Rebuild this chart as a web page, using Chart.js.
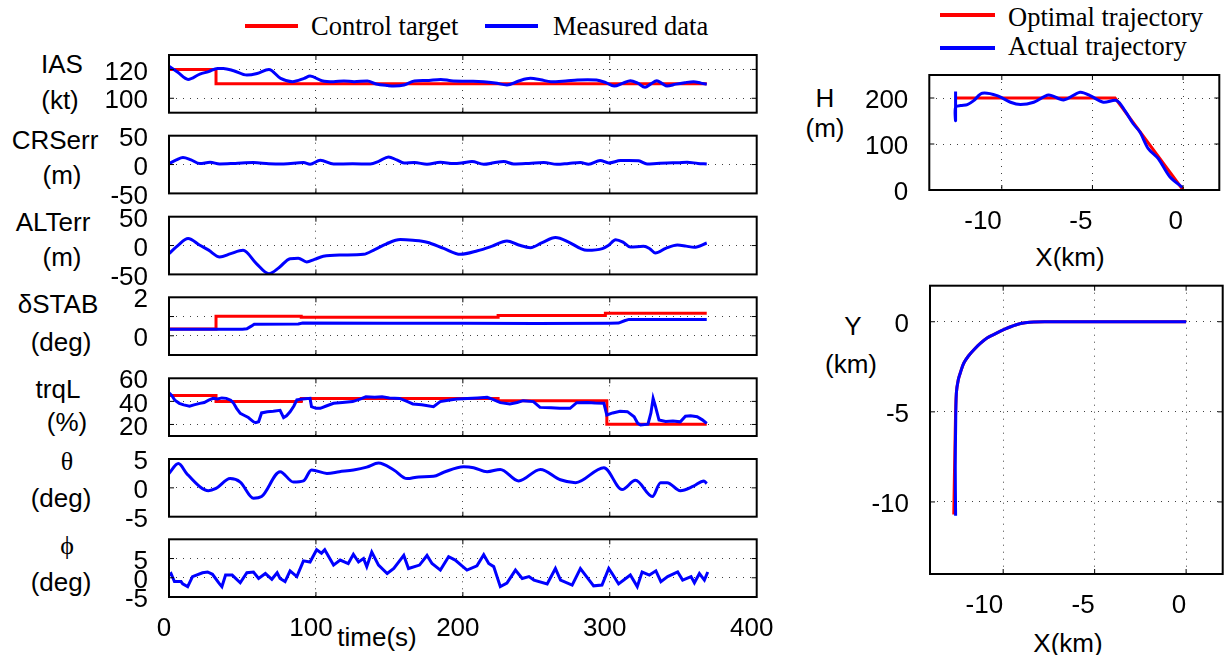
<!DOCTYPE html>
<html lang="en">
<head>
  <meta charset="UTF-8">
  <title>Approach tracking results</title>
  <script src="https://cdn.jsdelivr.net/npm/chart.js"></script>
  <style>
    body { margin: 0; background: #fff; }
    #page {
      position: relative;
      width: 1224px;
      height: 655px;
      overflow: hidden;
      font-family: "Liberation Sans", Arial, sans-serif;
      color: #000;
    }
    canvas { position: absolute; }
    .lab {
      position: absolute;
      font-size: 26px;
      line-height: 1;
      white-space: nowrap;
      transform: translate(-50%, -50%);
    }
    .greek { font-family: "Liberation Serif", "Times New Roman", serif; }
    .leg {
      position: absolute;
      font-family: "Liberation Serif", "Times New Roman", serif;
      font-size: 26.5px;
      line-height: 1;
      white-space: nowrap;
      transform: translateY(-50%);
    }
    .key { position: absolute; height: 4px; }
  </style>
</head>
<body>
<div id="page">
  <!-- legends -->
  <div class="key" style="left:245px;top:23.5px;width:53px;background:#f00"></div>
  <div class="leg" style="left:311px;top:26px">Control target</div>
  <div class="key" style="left:485px;top:23.5px;width:53px;background:#00f"></div>
  <div class="leg" style="left:553px;top:26px">Measured data</div>

  <div class="key" style="left:940px;top:13px;width:55px;background:#f00"></div>
  <div class="leg" style="left:1008px;top:17px">Optimal trajectory</div>
  <div class="key" style="left:940px;top:46px;width:55px;background:#00f"></div>
  <div class="leg" style="left:1008px;top:46px">Actual trajectory</div>

  <!-- strip labels -->
  <div class="lab" style="left:62px;top:64px">IAS</div>
  <div class="lab" style="left:60px;top:100px">(kt)</div>
  <div class="lab" style="left:55px;top:140px">CRSerr</div>
  <div class="lab" style="left:62px;top:175px">(m)</div>
  <div class="lab" style="left:53px;top:222px">ALTerr</div>
  <div class="lab" style="left:62px;top:257px">(m)</div>
  <div class="lab" style="left:58px;top:304px">δSTAB</div>
  <div class="lab" style="left:61px;top:342px">(deg)</div>
  <div class="lab" style="left:58px;top:389px">trqL</div>
  <div class="lab" style="left:67px;top:422px">(%)</div>
  <div class="lab greek" style="left:67px;top:462px">θ</div>
  <div class="lab" style="left:61px;top:498px">(deg)</div>
  <div class="lab greek" style="left:67px;top:546px">ϕ</div>
  <div class="lab" style="left:61px;top:582px">(deg)</div>
  <div class="lab" style="left:377px;top:637px">time(s)</div>

  <div class="lab" style="left:825px;top:98px">H</div>
  <div class="lab" style="left:825px;top:128px">(m)</div>
  <div class="lab" style="left:1070px;top:257px">X(km)</div>
  <div class="lab" style="left:853px;top:326px">Y</div>
  <div class="lab" style="left:851px;top:364px">(km)</div>
  <div class="lab" style="left:1068px;top:643px">X(km)</div>

  <canvas id="cIas"></canvas>
  <canvas id="cCrs"></canvas>
  <canvas id="cAlt"></canvas>
  <canvas id="cStab"></canvas>
  <canvas id="cTrq"></canvas>
  <canvas id="cTheta"></canvas>
  <canvas id="cPhi"></canvas>
  <canvas id="cH"></canvas>
  <canvas id="cY"></canvas>
</div>

<script>
// ---- time histories (t in s) ----
const timeTicks = [0, 100, 200, 300, 400];

const iasTargetT = [0, 32, 366];
const iasTargetV = [120, 110, 110];
const iasT = [0, 6, 13, 21, 27, 33, 37, 44, 53, 60, 68, 76, 84, 92, 96, 104, 112, 119, 126, 135,
  141, 149, 153, 160, 167, 175, 185, 192, 203, 214, 222, 230, 238, 246, 253, 260, 270, 278, 285,
  291, 297, 303, 309, 314, 319, 324, 328, 332, 336, 339, 345, 351, 357, 362, 366];
const iasV = [122.3, 118, 113.1, 116.8, 118.5, 120.7, 120.7, 119.1, 116.1, 117.2, 120, 113.8, 111.5,
  113.8, 115.4, 112.2, 111.5, 112, 111.5, 112, 109.9, 108.8, 108.5, 109.2, 112, 112.3, 113.1, 112.2,
  111.8, 111.5, 110.6, 109.2, 112, 113.8, 112.8, 111.5, 112, 112.6, 112.8, 112.6, 111, 108.5, 110.5,
  112.2, 110.5, 107.6, 110, 112.2, 110, 108.5, 109.8, 110.8, 111.5, 110.5, 109.7];

const crsT = [0, 5, 9.5, 15, 21, 28, 34.5, 45, 57.5, 68, 78, 91.5, 96, 103, 112, 125, 137, 143, 149.4,
  155, 160, 167, 175.6, 184.7, 193.8, 200, 206.2, 214.2, 221, 227.8, 234.6, 245, 255, 264, 272, 280,
  285.6, 293.5, 299.3, 307.3, 313, 319.7, 325.4, 332, 339, 346, 352.6, 360, 366];
const crsV = [1.7, 8, 12.1, 8, 1.7, 4, 1, 2, 3.5, 1.5, 1, 3.5, 0.5, 7.4, 1, 1.2, 1, 6, 13.2, 8, 2.9,
  3.5, 0.5, 4, 1.7, 3, 5.2, 0.5, 3, 5.2, 1, 2, 3.5, 0.5, 2, 3.5, 0.5, 6.9, 2.9, 6.9, 7.2, 6.4, 1, 2,
  2.9, 3, 4, 2, 1];

const altT = [0, 6, 13, 21, 27, 34.5, 42, 50.4, 59.5, 68, 75, 82.4, 88, 93.7, 99, 105, 118, 132.4,
  140, 148, 157.4, 166, 175.6, 187, 198.3, 210, 220, 230, 238, 246, 254, 263, 272, 280, 284.6, 295,
  299, 304, 309, 314, 323, 327, 331, 338, 346, 352, 357.4, 366];
const altV = [-13.9, 0, 12.1, 0.5, -8, -19.8, -14, -8.3, -31.4, -48.8, -38, -22.7, -22, -28.5, -24,
  -18.7, -16.5, -15.2, -7, 3, 10.3, 9, 5.7, -5, -15.2, -9, -1, 8, 1, -3.6, 5, 13.8, 6, -5, -8.3, -5.4,
  0, 10.2, 6, -2.5, -1.3, -5, -12.9, -5, 1, -1, -3.1, 4.4];

const stabTargetT = [0, 32, 90, 224, 297, 366];
const stabTargetV = [0.35, 1.02, 0.96, 1.05, 1.17, 1.17];
const stabT = [0, 50, 53, 56, 58, 88, 91, 150, 200, 250, 300, 306, 310, 313, 366];
const stabV = [0.34, 0.34, 0.36, 0.5, 0.6, 0.61, 0.66, 0.65, 0.65, 0.64, 0.65, 0.66, 0.78, 0.85, 0.85];

const trqTargetT = [0, 32, 90, 224, 298, 366];
const trqTargetV = [45.2, 40, 42.6, 40.5, 20.2, 20.2];
const trqT = [0, 2, 4, 7, 10, 14, 17, 21, 24, 27, 30, 33, 36, 39, 42, 44, 46, 48.5, 51, 54, 57.5, 59,
  61, 63, 67, 71, 75.6, 78, 80, 82.4, 85, 87, 91, 96, 97, 100, 103, 107, 112, 118, 125, 130, 134, 140,
  145, 150, 157, 162, 166, 172, 180, 184.6, 190, 196, 203, 210, 216.5, 220, 225.5, 232, 237, 241, 248,
  252.5, 260, 266, 273, 277.5, 285, 290, 296, 298, 302, 307, 312, 316.6, 319, 321, 326, 328, 329.5,
  331, 333.5, 338, 343, 348, 351.5, 355, 359.5, 363, 366];
const trqV = [47.5, 45, 41, 38.3, 37, 35.9, 37, 38.3, 39, 41, 42.6, 42, 43, 42.6, 41, 38.3, 34, 29.6,
  28, 26, 22.3, 21.5, 22.3, 30, 31, 31.5, 32.3, 26, 27.5, 31, 36, 41.3, 42, 42.6, 35.4, 34, 34, 36,
  38.3, 39, 39.8, 42, 44, 43.5, 44, 43, 42.6, 40, 37.8, 37, 35.4, 39.8, 41, 42, 42.6, 43, 43.5, 42,
  38.9, 37.8, 39, 40.6, 39.8, 34.8, 34.5, 34, 34, 38.9, 39, 38.5, 38.3, 28.2, 30, 31.5, 31.1, 26.7,
  21, 19.5, 20.3, 30, 42.6, 36, 23.8, 22.5, 23, 22.3, 27.2, 27.5, 26.7, 24, 20.9];

const thetaT = [0, 6.4, 12, 21, 26.8, 32, 41.6, 48.5, 57.5, 63, 75.6, 84.7, 91.5, 97, 107.5, 116,
  125.6, 134.6, 142.6, 153, 162, 170, 180, 187, 200.5, 207.3, 216.5, 225.5, 238, 252.8, 266.4, 276.7,
  296, 308.4, 317.5, 329, 334.6, 339, 348, 357, 364, 366];
const thetaV = [2.5, 4.2, 2.5, 0.2, -0.5, -0.1, 1.6, 1.0, -1.8, -1.5, 2.8, 1.0, 1.2, 3.1, 2.5, 2.8,
  3.1, 3.6, 4.3, 3.1, 1.6, 1.9, 2.0, 2.7, 3.65, 3.5, 2.8, 3.2, 1.2, 3.2, 1.4, 0.9, 3.5, -0.3, 1.3,
  -1.5, 0.9, 0.9, -0.5, 0.3, 1.2, 0.75];

const phiT = [0, 1.4, 3.7, 8.2, 9.3, 12.7, 16, 22.8, 26.3, 29.6, 34, 36, 38.5, 43, 48.5, 53, 57.5,
  61, 65.6, 70, 73.6, 75.6, 79, 82.4, 87, 91.5, 96, 100.5, 103.8, 106, 112, 116.5, 122, 125.5, 129,
  132.4, 134.6, 138, 142.6, 148.5, 153, 159.8, 163, 170.5, 175.6, 179, 184.7, 190.3, 194.8, 199.4,
  202.8, 209.6, 214.2, 217.6, 221, 225.5, 230, 235.8, 240.4, 245, 248.4, 257.4, 263, 266.5, 274.4,
  280, 283.4, 289, 294.7, 299.3, 301.6, 306, 309.5, 314, 318.7, 322, 327, 331.4, 334.8, 339.4,
  346.2, 349.6, 355.3, 357.6, 361, 364.4, 366.7];
const phiV = [0.7, 1.1, -1.0, -1.0, -1.6, -2.3, 0.3, 1.3, 1.5, 0.9, -1.4, -2.3, 0.7, 0.7, -1.3, 1.3,
  1.5, -0.2, 1.1, -0.4, 1.3, -0.2, -1.0, 1.8, 0.3, 4.4, 4.1, 7.3, 6.4, 7.3, 3.3, 4.6, 3.7, 6.1, 4.1,
  5.0, 2.9, 6.7, 3.3, 1.1, 2.4, 5.8, 2.4, 3.3, 5.8, 3.7, 2.0, 5.5, 4.6, 3.1, 2.0, 3.1, 6.0, 3.7, 2.9,
  -2.3, -1.4, 2.0, -0.2, 0.3, -0.6, -1.6, 2.4, -0.6, -1.9, 2.4, 0.7, -2.1, -1.9, 2.4, 1.1, -1.6,
  -0.6, 0.7, -2.3, 1.5, 0.7, 1.8, -1.0, 0.3, 1.5, -0.6, 0.3, -1.3, 1.1, -0.6, 1.5];

// ---- trajectories (km / m) ----
const kmTicks = [-10, -5, 0];
const optHX = [-12.55, -3.75, 0];
const optH = [200, 200, 0];
const actHX = [-12.55, -12.55, -12.55, -12.27, -11.9, -11.55, -11.08, -10.26, -9.52, -8.97, -8.24,
  -7.42, -6.59, -5.68, -5.13, -4.4, -3.66, -3.2, -2.75, -2.38, -1.92, -1.37, -0.73, -0.04];
const actH = [214, 151, 180, 183.6, 185.7, 194.4, 210.2, 205.2, 190.8, 185.7, 190.8, 206.6, 195.8,
  212.4, 205.2, 190.8, 194.4, 172, 144, 126, 90, 68.4, 28.8, 5.8];

const optYX = [-12.7, -12.62, -12.56, -12.45, -12.3, -12.15, -11.9, -11.6, -11.25, -10.88, -10.5,
  -10.15, -9.7, -9.24, -8.8, -8.33, -7.7, 0];
const optY = [-10.7, -6, -3.97, -3.2, -2.7, -2.29, -1.9, -1.55, -1.2, -0.9, -0.7, -0.52, -0.32,
  -0.15, -0.06, -0.01, 0, 0];
const actYX = [-12.6, -12.62, -12.6, -12.56, -12.45, -12.3, -12.15, -11.9, -11.6, -11.25, -10.88,
  -10.5, -10.15, -9.7, -9.24, -8.8, -8.33, -7.7, 0];
const actY = [-10.77, -8, -6, -3.97, -3.2, -2.7, -2.29, -1.9, -1.55, -1.2, -0.9, -0.7, -0.52, -0.32,
  -0.15, -0.06, -0.01, 0, 0];

// ---- layout ----
const PLOT_LEFT = 169;
const PLOT_RIGHT = 756.7;
const stripTop = [55, 135.7, 216.7, 297.3, 378.3, 459, 539.3];
const stripH = 57.7;

Chart.defaults.font.family = '"Liberation Sans", Arial, sans-serif';
Chart.defaults.font.size = 26;
Chart.defaults.color = '#000';

const RED = '#ff0000';
const BLUE = '#0000ff';

function pts(xs, ys) {
  return xs.map((x, i) => ({x: x, y: ys[i]}));
}

function series(xs, ys, color, extra) {
  return Object.assign({
    data: pts(xs, ys),
    borderColor: color,
    backgroundColor: color,
    borderWidth: 3,
    pointRadius: 0,
    fill: false,
    tension: 0
  }, extra || {});
}

function fixedTicks(vals) {
  return s => { s.ticks = vals.map(v => ({value: v})); };
}

const gridStyle = {color: 'rgba(0,0,0,0.75)', lineWidth: 1, drawTicks: false};
const borderStyle = {display: false, dash: [1, 6]};

// box around the plot area plus MATLAB-style inner tick marks
const frame = {
  id: 'frame',
  afterDraw(chart) {
    const {ctx, chartArea: a, scales} = chart;
    const len = 5;
    ctx.save();
    ctx.strokeStyle = '#000';
    ctx.lineWidth = 1;
    ctx.beginPath();
    scales.x.ticks.forEach(t => {
      const px = scales.x.getPixelForValue(t.value);
      if (px < a.left + 1 || px > a.right - 1) return;
      ctx.moveTo(px, a.top); ctx.lineTo(px, a.top + len);
      ctx.moveTo(px, a.bottom); ctx.lineTo(px, a.bottom - len);
    });
    scales.y.ticks.forEach(t => {
      const py = scales.y.getPixelForValue(t.value);
      if (py < a.top + 1 || py > a.bottom - 1) return;
      ctx.moveTo(a.left, py); ctx.lineTo(a.left + len, py);
      ctx.moveTo(a.right, py); ctx.lineTo(a.right - len, py);
    });
    ctx.stroke();
    ctx.lineWidth = 2;
    ctx.strokeRect(a.left, a.top, a.right - a.left, a.bottom - a.top);
    ctx.restore();
  }
};

function makeChart(id, box, xCfg, yCfg, datasets) {
  const cv = document.getElementById(id);
  cv.width = box.cw;
  cv.height = box.cBottom - box.cTop;
  cv.style.left = box.cLeft + 'px';
  cv.style.top = box.cTop + 'px';
  return new Chart(cv, {
    type: 'line',
    data: {datasets: datasets},
    options: {
      responsive: false,
      animation: false,
      events: [],
      layout: {padding: {left: 0, top: box.top - box.cTop, right: box.cLeft + box.cw - box.right, bottom: 0}},
      plugins: {legend: {display: false}, tooltip: {enabled: false}},
      scales: {
        x: {
          type: 'linear', min: xCfg.min, max: xCfg.max,
          grid: gridStyle, border: borderStyle,
          afterBuildTicks: fixedTicks(xCfg.ticks),
          afterFit: s => { s.height = box.cBottom - box.bottom; s.paddingLeft = 0; s.paddingRight = 0; },
          ticks: Object.assign({display: xCfg.show, padding: 16, maxRotation: 0, autoSkip: false}, xCfg.tickOpts || {})
        },
        y: {
          type: 'linear', min: yCfg.min, max: yCfg.max,
          grid: gridStyle, border: borderStyle,
          afterBuildTicks: fixedTicks(yCfg.ticks),
          afterFit: s => { s.width = box.left - box.cLeft; s.paddingTop = 0; s.paddingBottom = 0; },
          ticks: {
            padding: 21, labelOffset: 3, autoSkip: false,
            callback: v => (yCfg.labels || yCfg.ticks).includes(v) ? String(v) : ''
          }
        }
      }
    },
    plugins: [frame]
  });
}

function strip(id, i, yCfg, datasets, last) {
  const top = stripTop[i];
  const bottom = top + stripH;
  const box = {
    cLeft: 0, cw: 800,
    cTop: Math.floor(top) - 12,
    cBottom: last ? 655 : Math.ceil(bottom) + 12,
    left: PLOT_LEFT, right: PLOT_RIGHT, top: top, bottom: bottom
  };
  const xCfg = {min: 0, max: 400, ticks: timeTicks, show: !!last, tickOpts: {labelOffset: -5}};
  return makeChart(id, box, xCfg, yCfg, datasets);
}

const smooth = {cubicInterpolationMode: 'monotone'};

strip('cIas', 0, {min: 90, max: 130, ticks: [100, 120]}, [
  series(iasT, iasV, BLUE, smooth),
  series(iasTargetT, iasTargetV, RED, {stepped: true})
]);
strip('cCrs', 1, {min: -50, max: 50, ticks: [-50, 0, 50]}, [
  series(crsT, crsV, BLUE, smooth)
]);
strip('cAlt', 2, {min: -50, max: 50, ticks: [-50, 0, 50]}, [
  series(altT, altV, BLUE, smooth)
]);
strip('cStab', 3, {min: -1, max: 2, ticks: [-1, 0, 1, 2], labels: [0, 2]}, [
  series(stabT, stabV, BLUE),
  series(stabTargetT, stabTargetV, RED, {stepped: true})
]);
strip('cTrq', 4, {min: 10, max: 60, ticks: [20, 40, 60]}, [
  series(trqT, trqV, BLUE),
  series(trqTargetT, trqTargetV, RED, {stepped: true})
]);
strip('cTheta', 5, {min: -5, max: 5, ticks: [-5, 0, 5]}, [
  series(thetaT, thetaV, BLUE, smooth)
]);
strip('cPhi', 6, {min: -5, max: 10, ticks: [-5, 0, 5, 10], labels: [-5, 0, 5]}, [
  series(phiT, phiV, BLUE)
], true);

// altitude profile
makeChart('cH',
  {cLeft: 800, cw: 424, cTop: 60, cBottom: 245, left: 929.3, right: 1219.3, top: 75, bottom: 190},
  {min: -14, max: 2, ticks: kmTicks, show: true, tickOpts: {align: 'end'}},
  {min: 0, max: 250, ticks: [0, 100, 200]},
  [
    series(actHX, actH, BLUE, {tension: 0.3}),
    series(optHX, optH, RED)
  ]);

// ground track
makeChart('cY',
  {cLeft: 800, cw: 424, cTop: 270, cBottom: 655, left: 930, right: 1222.7, top: 285.7, bottom: 574},
  {min: -14, max: 2, ticks: kmTicks, show: true, tickOpts: {align: 'end'}},
  {min: -14, max: 2, ticks: [-10, -5, 0]},
  [
    series(actYX, actY, BLUE, {tension: 0.3}),
    series(optYX, optY, RED, {tension: 0.3})
  ]);
</script>
</body>
</html>
